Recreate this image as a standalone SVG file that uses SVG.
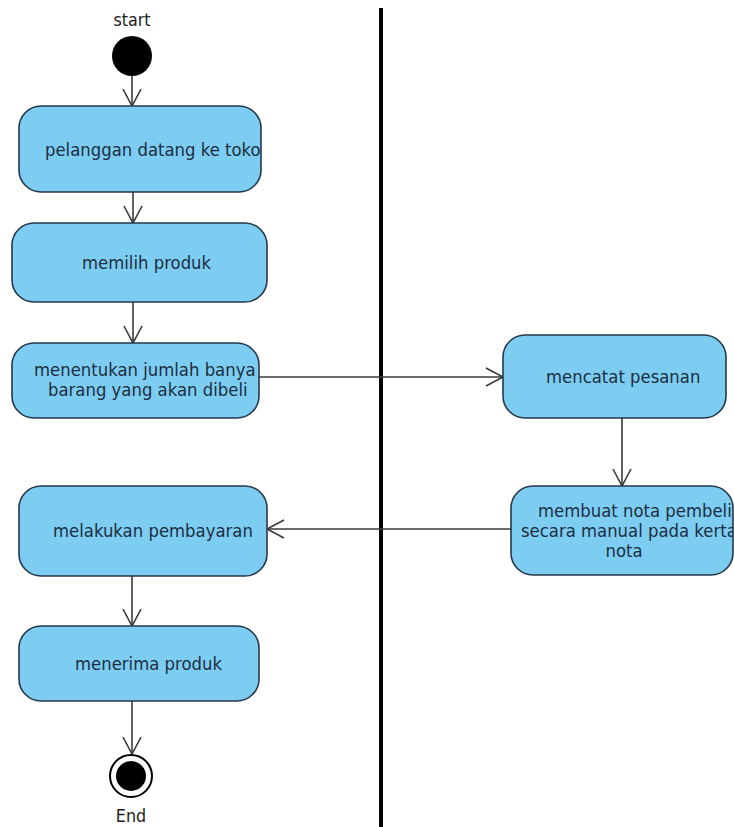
<svg xmlns="http://www.w3.org/2000/svg" width="734" height="827" viewBox="0 0 734 827">
  <style>
    .act { fill: #7dcdf3; stroke: #26384a; stroke-width: 1.6; }
    .lbl { font-family: "DejaVu Sans", sans-serif; font-size: 16.5px; fill: #1c2e40; }
    .cap { font-family: "DejaVu Sans", sans-serif; font-size: 16px; fill: #222; text-anchor: middle; }
    .flow { fill: none; stroke: #3a3a3a; stroke-width: 1.6; marker-end: url(#open); }
  </style>
  <defs>
    <marker id="open" markerUnits="userSpaceOnUse" markerWidth="24" markerHeight="24" viewBox="-20 -12 24 24" refX="0" refY="0" orient="auto">
      <path d="M -17 -9 L 0 0 L -17 9" fill="none" stroke="#3a3a3a" stroke-width="1.6"/>
    </marker>
    <clipPath id="c1"><rect x="19" y="106" width="242" height="86" rx="22"/></clipPath>
    <clipPath id="c3"><rect x="12" y="343" width="247" height="75" rx="22"/></clipPath>
    <clipPath id="c5"><rect x="511" y="486" width="222" height="89" rx="22"/></clipPath>
  </defs>

  <!-- swimlane divider -->
  <line x1="381" y1="8" x2="381" y2="827" stroke="#000" stroke-width="4"/>

  <g id="connectors">
    <line class="flow" x1="132" y1="76" x2="132" y2="106"/>
    <line class="flow" x1="133" y1="192" x2="133" y2="223"/>
    <line class="flow" x1="133" y1="302" x2="133" y2="343"/>
    <line class="flow" x1="259" y1="377" x2="503" y2="377"/>
    <line class="flow" x1="622" y1="418" x2="622" y2="486"/>
    <line class="flow" x1="511" y1="529" x2="267" y2="529"/>
    <line class="flow" x1="132" y1="576" x2="132" y2="626"/>
    <line class="flow" x1="132" y1="701" x2="132" y2="754"/>
  </g>

  <g id="start">
    <text class="cap" transform="translate(132,26) scale(1,1.1)">start</text>
    <circle cx="132" cy="56" r="20" fill="#000"/>
  </g>

  <g id="pelanggan-datang">
    <rect class="act" x="19" y="106" width="242" height="86" rx="22"/>
    <g clip-path="url(#c1)">
      <text class="lbl" transform="translate(45,156) scale(1,1.1)">pelanggan datang ke toko</text>
    </g>
  </g>

  <g id="memilih-produk">
    <rect class="act" x="12" y="223" width="255" height="79" rx="22"/>
    <text class="lbl" transform="translate(82,269) scale(1,1.1)">memilih produk</text>
  </g>

  <g id="menentukan-jumlah">
    <rect class="act" x="12" y="343" width="247" height="75" rx="22"/>
    <g clip-path="url(#c3)">
      <text class="lbl" transform="translate(34,376) scale(1,1.1)">menentukan jumlah banya</text>
      <text class="lbl" transform="translate(48,396) scale(1,1.1)">barang yang akan dibeli</text>
    </g>
  </g>

  <g id="mencatat-pesanan">
    <rect class="act" x="503" y="335" width="223" height="83" rx="22"/>
    <text class="lbl" transform="translate(546,383) scale(1,1.1)">mencatat pesanan</text>
  </g>

  <g id="membuat-nota">
    <rect class="act" x="511" y="486" width="222" height="89" rx="22"/>
    <g clip-path="url(#c5)">
      <text class="lbl" transform="translate(538,517) scale(1,1.1)">membuat nota pembeli</text>
      <text class="lbl" transform="translate(521,537) scale(1,1.1)">secara manual pada kerta</text>
      <text class="lbl" transform="translate(624,557) scale(1,1.1)" text-anchor="middle">nota</text>
    </g>
  </g>

  <g id="melakukan-pembayaran">
    <rect class="act" x="19" y="486" width="248" height="90" rx="22"/>
    <text class="lbl" transform="translate(53,537) scale(1,1.1)">melakukan pembayaran</text>
  </g>

  <g id="menerima-produk">
    <rect class="act" x="19" y="626" width="240" height="75" rx="22"/>
    <text class="lbl" transform="translate(75,670) scale(1,1.1)">menerima produk</text>
  </g>

  <g id="end">
    <circle cx="131" cy="776" r="21" fill="#fff" stroke="#000" stroke-width="2"/>
    <circle cx="131" cy="776" r="15" fill="#000"/>
    <text class="cap" transform="translate(131,822) scale(1,1.1)">End</text>
  </g>
</svg>
